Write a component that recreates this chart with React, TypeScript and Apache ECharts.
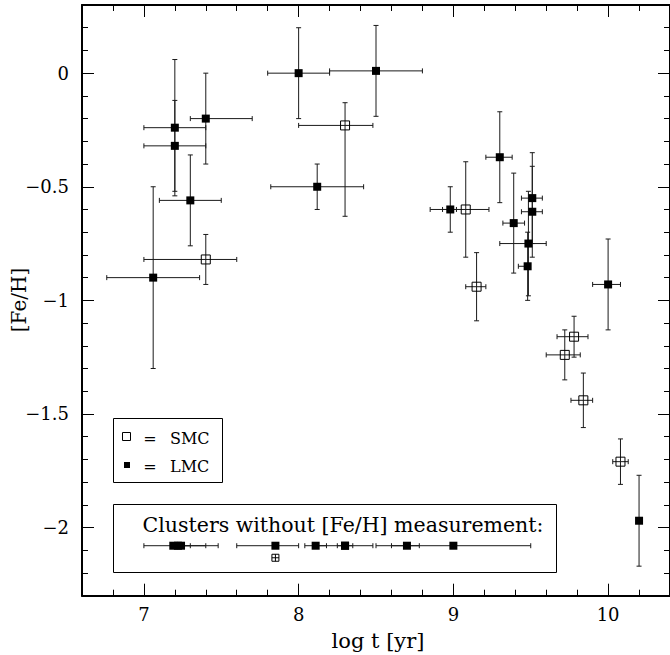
import React, { useEffect, useRef } from 'react';
import * as echarts from 'echarts';

const FONT = '"DejaVu Serif", "Liberation Serif", serif';

// ---- LMC clusters with [Fe/H] ----
const lmcLogT = [7.2, 7.2, 7.4, 7.3, 7.06, 8.0, 8.5, 8.12, 9.3, 8.98, 9.39, 9.51, 9.51, 9.485, 9.48, 10.0, 10.2];
const lmcFeH = [-0.24, -0.32, -0.2, -0.56, -0.9, 0.0, 0.01, -0.5, -0.37, -0.6, -0.66, -0.55, -0.61, -0.75, -0.85, -0.93, -1.97];
const lmcLogTRange = [
  [7.0, 7.4], [7.0, 7.4], [7.3, 7.7], [7.1, 7.5], [6.76, 7.36], [7.8, 8.2], [8.2, 8.8], [7.82, 8.42],
  [9.21, 9.38], [8.85, 9.02], [9.32, 9.46], [9.44, 9.575], [9.44, 9.575], [9.3, 9.6], [9.42, 9.49],
  [9.9, 10.08], [10.2, 10.2],
];
const lmcFeHRange = [
  [-0.54, 0.06], [-0.52, -0.12], [-0.4, 0.0], [-0.76, -0.36], [-1.3, -0.5], [-0.2, 0.2], [-0.19, 0.21],
  [-0.6, -0.4], [-0.57, -0.17], [-0.7, -0.5], [-0.88, -0.44], [-0.75, -0.35], [-0.81, -0.41],
  [-0.98, -0.52], [-1.0, -0.7], [-1.13, -0.73], [-2.17, -1.77],
];

// ---- SMC clusters with [Fe/H] ----
const smcLogT = [7.4, 8.3, 9.08, 9.15, 9.78, 9.72, 9.84, 10.08];
const smcFeH = [-0.82, -0.23, -0.6, -0.94, -1.16, -1.24, -1.44, -1.71];
const smcLogTRange = [
  [7.0, 7.6], [8.0, 8.48], [8.93, 9.23], [9.08, 9.21], [9.67, 9.87], [9.6, 9.82], [9.76, 9.9], [10.03, 10.13],
];
const smcFeHRange = [
  [-0.93, -0.71], [-0.63, -0.13], [-0.81, -0.39], [-1.09, -0.79], [-1.25, -1.07], [-1.35, -1.13],
  [-1.56, -1.32], [-1.81, -1.61],
];

// ---- clusters without [Fe/H] measurement ----
const noFeHLmcLogT = [7.19, 7.24, 7.22, 7.85, 8.11, 8.3, 8.3, 8.7, 9.0];
const noFeHLmcLogTRange = [
  [7.0, 7.4], [7.2, 7.3], [7.2, 7.48], [7.6, 8.0], [8.04, 8.18], [8.25, 8.35], [8.11, 8.48], [8.6, 8.78], [8.5, 9.5],
];
const noFeHSmcLogT = [7.85];
const NO_FEH_ROW_LMC = -2.08;
const NO_FEH_ROW_SMC = -2.133;

// ---- axes ----
const X_MIN = 6.6;
const X_MAX = 10.4;
const Y_MIN = -2.3;
const Y_MAX = 0.3;
const xMajorTicks = [7, 8, 9, 10];
const xMinorTicks = [6.8, 7.2, 7.4, 7.6, 7.8, 8.2, 8.4, 8.6, 8.8, 9.2, 9.4, 9.6, 9.8, 10.2];
const yMajorTicks = [0, -0.5, -1, -1.5, -2];
const yMinorTicks = [
  0.2, 0.1, -0.1, -0.2, -0.3, -0.4, -0.6, -0.7, -0.8, -0.9, -1.1, -1.2, -1.3, -1.4, -1.6, -1.7, -1.8, -1.9,
  -2.1, -2.2,
];

const fmt = (v: number) => (v < 0 ? '\u2212' + String(Math.abs(v)) : String(v));

function App() {
  const ref = useRef<HTMLDivElement>(null);
  useEffect(() => {
    if (!ref.current) return;
    const chart = echarts.init(ref.current, undefined, { renderer: 'svg' });

    const lineStyle = { stroke: '#1a1a1a', lineWidth: 1 };
    const errRender = (params: any, api: any) => {
      const x = api.value(0);
      const y = api.value(1);
      const x0 = api.value(2);
      const x1 = api.value(3);
      const y0 = api.value(4);
      const y1 = api.value(5);
      const children: any[] = [];
      if (x1 > x0) {
        const a = api.coord([x0, y]);
        const b = api.coord([x1, y]);
        children.push({ type: 'line', shape: { x1: a[0], y1: a[1], x2: b[0], y2: b[1] }, style: lineStyle });
        children.push({ type: 'line', shape: { x1: a[0], y1: a[1] - 2.5, x2: a[0], y2: a[1] + 2.5 }, style: lineStyle });
        children.push({ type: 'line', shape: { x1: b[0], y1: b[1] - 2.5, x2: b[0], y2: b[1] + 2.5 }, style: lineStyle });
      }
      if (y1 > y0) {
        const a = api.coord([x, y0]);
        const b = api.coord([x, y1]);
        children.push({ type: 'line', shape: { x1: a[0], y1: a[1], x2: b[0], y2: b[1] }, style: lineStyle });
        children.push({ type: 'line', shape: { x1: a[0] - 2.5, y1: a[1], x2: a[0] + 2.5, y2: a[1] }, style: lineStyle });
        children.push({ type: 'line', shape: { x1: b[0] - 2.5, y1: b[1], x2: b[0] + 2.5, y2: b[1] }, style: lineStyle });
      }
      return { type: 'group', children };
    };

    const lmcErr = lmcLogT.map((x, i) => [x, lmcFeH[i], lmcLogTRange[i][0], lmcLogTRange[i][1], lmcFeHRange[i][0], lmcFeHRange[i][1]]);
    const smcErr = smcLogT.map((x, i) => [x, smcFeH[i], smcLogTRange[i][0], smcLogTRange[i][1], smcFeHRange[i][0], smcFeHRange[i][1]]);
    const noErr = noFeHLmcLogT.map((x, i) => [x, NO_FEH_ROW_LMC, noFeHLmcLogTRange[i][0], noFeHLmcLogTRange[i][1], NO_FEH_ROW_LMC, NO_FEH_ROW_LMC]);

    const baseX = {
      type: 'value',
      min: X_MIN,
      max: X_MAX,
      splitLine: { show: false },
    };
    const baseY = {
      type: 'value',
      min: Y_MIN,
      max: Y_MAX,
      splitLine: { show: false },
    };
    const axisLineOn = { show: true, onZero: false, lineStyle: { color: '#000', width: 2 } };
    const axisLineOff = { show: false, onZero: false };
    const tickStyle = { color: '#000', width: 1 };

    const option: any = {
      animation: false,
      backgroundColor: '#fff',
      grid: { left: 82, top: 5, width: 590.9, height: 590.7, containLabel: false },
      xAxis: [
        {
          ...baseX, position: 'bottom', axisLine: axisLineOn,
          axisTick: { show: true, inside: true, length: 12, customValues: xMajorTicks, lineStyle: tickStyle },
          axisLabel: { show: true, customValues: xMajorTicks, formatter: fmt, color: '#000', fontFamily: FONT, fontSize: 18, margin: 10 },
        },
        {
          ...baseX, position: 'bottom', axisLine: axisLineOff,
          axisTick: { show: true, inside: true, length: 6, customValues: xMinorTicks, lineStyle: tickStyle },
          axisLabel: { show: false },
        },
        {
          ...baseX, position: 'top', axisLine: axisLineOn,
          axisTick: { show: true, inside: true, length: 12, customValues: xMajorTicks, lineStyle: tickStyle },
          axisLabel: { show: false },
        },
        {
          ...baseX, position: 'top', axisLine: axisLineOff,
          axisTick: { show: true, inside: true, length: 6, customValues: xMinorTicks, lineStyle: tickStyle },
          axisLabel: { show: false },
        },
      ],
      yAxis: [
        {
          ...baseY, position: 'left', axisLine: axisLineOn,
          axisTick: { show: true, inside: true, length: 12, customValues: yMajorTicks, lineStyle: tickStyle },
          axisLabel: { show: true, customValues: yMajorTicks, formatter: fmt, color: '#000', fontFamily: FONT, fontSize: 18, margin: 13 },
        },
        {
          ...baseY, position: 'left', axisLine: axisLineOff,
          axisTick: { show: true, inside: true, length: 6, customValues: yMinorTicks, lineStyle: tickStyle },
          axisLabel: { show: false },
        },
        {
          ...baseY, position: 'right', axisLine: axisLineOn,
          axisTick: { show: true, inside: true, length: 12, customValues: yMajorTicks, lineStyle: tickStyle },
          axisLabel: { show: false },
        },
        {
          ...baseY, position: 'right', axisLine: axisLineOff,
          axisTick: { show: true, inside: true, length: 6, customValues: yMinorTicks, lineStyle: tickStyle },
          axisLabel: { show: false },
        },
      ],
      series: [
        { type: 'custom', name: 'LMC errors', xAxisIndex: 0, yAxisIndex: 0, data: lmcErr, renderItem: errRender, clip: false, z: 2, silent: true },
        { type: 'custom', name: 'SMC errors', xAxisIndex: 0, yAxisIndex: 0, data: smcErr, renderItem: errRender, clip: false, z: 2, silent: true },
        { type: 'custom', name: 'no [Fe/H] errors', xAxisIndex: 0, yAxisIndex: 0, data: noErr, renderItem: errRender, clip: false, z: 2, silent: true },
        {
          type: 'scatter', name: 'SMC', xAxisIndex: 0, yAxisIndex: 0, symbol: 'rect', symbolSize: 9, z: 3,
          data: smcLogT.map((x, i) => [x, smcFeH[i]]),
          itemStyle: { color: 'rgba(0,0,0,0)', borderColor: '#000', borderWidth: 1, opacity: 1 },
        },
        {
          type: 'scatter', name: 'LMC', xAxisIndex: 0, yAxisIndex: 0, symbol: 'rect', symbolSize: 8, z: 3,
          data: lmcLogT.map((x, i) => [x, lmcFeH[i]]).concat(noFeHLmcLogT.map((x) => [x, NO_FEH_ROW_LMC])),
          itemStyle: { color: '#000', opacity: 1 },
        },
        {
          type: 'custom', name: 'SMC no [Fe/H]', xAxisIndex: 0, yAxisIndex: 0, z: 3, silent: true,
          data: noFeHSmcLogT.map((x) => [x, NO_FEH_ROW_SMC]),
          renderItem: (params: any, api: any) => {
            const c = api.coord([api.value(0), api.value(1)]);
            const h = 3.5;
            return {
              type: 'group',
              children: [
                { type: 'rect', shape: { x: c[0] - h, y: c[1] - h, width: 2 * h, height: 2 * h }, style: { fill: 'none', stroke: '#000', lineWidth: 1 } },
                { type: 'line', shape: { x1: c[0] - h, y1: c[1], x2: c[0] + h, y2: c[1] }, style: { stroke: '#000', lineWidth: 1 } },
                { type: 'line', shape: { x1: c[0], y1: c[1] - h, x2: c[0], y2: c[1] + h }, style: { stroke: '#000', lineWidth: 1 } },
              ],
            };
          },
        },
      ],
      graphic: [
        // axis titles
        { type: 'text', x: 378, y: 641, style: { text: 'log t [yr]', font: `21px ${FONT}`, fill: '#000', align: 'center', verticalAlign: 'middle' } },
        { type: 'text', x: 19, y: 300, rotation: Math.PI / 2, style: { text: '[Fe/H]', font: `20px ${FONT}`, fill: '#000', align: 'center', verticalAlign: 'middle' } },
        // legend box
        { type: 'rect', shape: { x: 113.5, y: 418.5, width: 109, height: 64 }, style: { fill: 'none', stroke: '#000', lineWidth: 1 } },
        { type: 'rect', shape: { x: 122.5, y: 432.5, width: 8, height: 8 }, style: { fill: 'none', stroke: '#000', lineWidth: 1 } },
        { type: 'text', x: 150, y: 438, style: { text: '=', font: `16px ${FONT}`, fill: '#000', align: 'center', verticalAlign: 'middle' } },
        { type: 'text', x: 170, y: 438, style: { text: 'SMC', font: `16px ${FONT}`, fill: '#000', align: 'left', verticalAlign: 'middle' } },
        { type: 'rect', shape: { x: 124, y: 462, width: 6, height: 6 }, style: { fill: '#000' } },
        { type: 'text', x: 150, y: 466, style: { text: '=', font: `16px ${FONT}`, fill: '#000', align: 'center', verticalAlign: 'middle' } },
        { type: 'text', x: 170, y: 466, style: { text: 'LMC', font: `16px ${FONT}`, fill: '#000', align: 'left', verticalAlign: 'middle' } },
        // clusters without [Fe/H] box
        { type: 'rect', shape: { x: 113.5, y: 504.5, width: 443, height: 68 }, style: { fill: 'none', stroke: '#000', lineWidth: 1 } },
        { type: 'text', x: 343, y: 525, style: { text: 'Clusters without [Fe/H] measurement:', font: `20.5px ${FONT}`, fill: '#000', align: 'center', verticalAlign: 'middle' } },
      ],
    };
    chart.setOption(option);
    return () => chart.dispose();
  }, []);
  return <div ref={ref} style={{ position: 'absolute', left: 0, top: 0, width: 670, height: 655 }} />;
}

export default App;
